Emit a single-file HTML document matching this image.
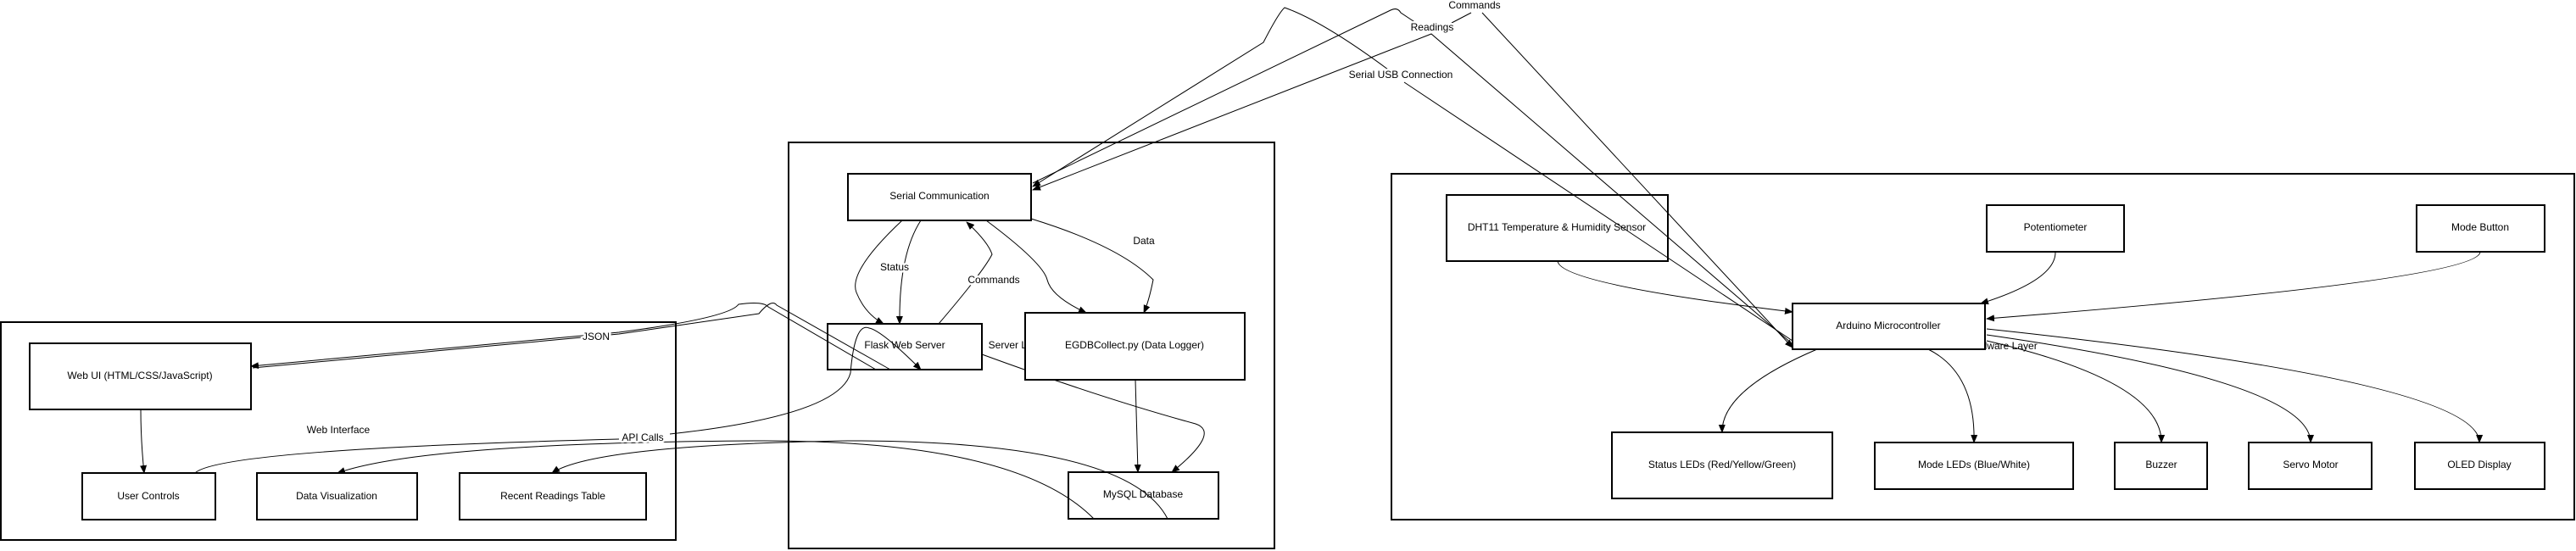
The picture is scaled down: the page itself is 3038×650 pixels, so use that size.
<!DOCTYPE html>
<html><head><meta charset="utf-8"><style>
html,body{margin:0;padding:0;background:#fff}
svg{display:block}
text{font-family:"Liberation Sans",sans-serif;font-size:12px;fill:#000;text-anchor:middle;dominant-baseline:middle}
text.l{stroke:#fff;stroke-width:5px;paint-order:stroke;stroke-linejoin:round}
.c{fill:none;stroke:#000;stroke-width:2}
.n{fill:#fff;stroke:#000;stroke-width:2}
.e{fill:none;stroke:#000;stroke-width:1}
</style></head><body>
<svg width="3038" height="650" viewBox="0 0 3038 650" xmlns="http://www.w3.org/2000/svg">
<defs><marker id="a" markerWidth="10" markerHeight="10" refX="9" refY="5" orient="auto" markerUnits="userSpaceOnUse"><path d="M0,1 L10,5 L0,9 z" fill="#000"/></marker></defs>

<rect class="c" x="1" y="380" width="796" height="257"/>
<rect class="c" x="930" y="168" width="573" height="479"/>
<rect class="c" x="1641" y="205" width="1395" height="408"/>
<text x="399" y="508">Web Interface</text>
<text x="1200" y="408">Server Layer</text>
<text x="2360" y="409">Hardware Layer</text>

<path class="e" d="M2114,402 L1656,97 M1637,82 Q1560,25 1515,9 Q1508,15 1490,50 L1218,220" marker-end="url(#a)"/>
<path class="e" d="M2114,406 L1688,40 L1218,224" marker-end="url(#a)"/>
<path class="e" d="M1218,216 L1640,12 Q1648,8 1652,15 L1670,27 M1712,27 L1735,15 M1748,15 L2114,410" marker-end="url(#a)"/>
<text class="l" x="1739" y="7">Commands</text>
<text class="l" x="1689" y="33">Readings</text>
<text class="l" x="1652" y="89">Serial USB Connection</text>

<path class="e" d="M1064,260 Q1000,320 1010,345 Q1020,370 1042,382" marker-end="url(#a)"/>
<path class="e" d="M1086,260 Q1060,300 1061,382" marker-end="url(#a)"/>
<path class="e" d="M1107,382 Q1160,320 1170,300 Q1165,285 1140,262" marker-end="url(#a)"/>
<path class="e" d="M1163,260 Q1230,310 1235,330 Q1240,350 1281,369" marker-end="url(#a)"/>
<path class="e" d="M1216,258 Q1320,290 1360,330 Q1355,355 1349,369" marker-end="url(#a)"/>
<text class="l" x="1055" y="316">Status</text>
<text class="l" x="1172" y="331">Commands</text>
<text class="l" x="1349" y="285">Data</text>
<path class="e" d="M1339,448 L1342,557" marker-end="url(#a)"/>
<path class="e" d="M1158,418 Q1300,470 1410,500 Q1440,510 1382,557" marker-end="url(#a)"/>

<path class="e" d="M1033,436 L906,362 Q900,355 871,359 Q860,375 730,392 L296,432" marker-end="url(#a)"/>
<path class="e" d="M1050,436 L916,360 Q910,352 895,370 L730,394 L298,434"/>
<text class="l" x="703" y="398">JSON</text>
<path class="e" d="M230,558 Q260,530 730,518 M790,512 Q990,490 1003,440 Q1008,380 1025,387 Q1040,390 1086,436" marker-end="url(#a)"/>
<path class="e" d="M1290,612 Q1200,520 900,520 Q500,522 398,558" marker-end="url(#a)"/>
<path class="e" d="M1377,612 Q1330,520 1000,520 Q700,525 651,558" marker-end="url(#a)"/>
<text class="l" x="758" y="517">API Calls</text>
<path class="e" d="M166,483 Q166,520 170,558" marker-end="url(#a)"/>

<path class="e" d="M1837,308 Q1840,335 2114,368" marker-end="url(#a)"/>
<path class="e" d="M2424,297 Q2425,330 2336,358" marker-end="url(#a)"/>
<path class="e" d="M2925,297 Q2925,330 2343,376" marker-end="url(#a)"/>
<path class="e" d="M2143,412 Q2030,460 2031,510" marker-end="url(#a)"/>
<path class="e" d="M2274,412 Q2330,440 2328,522" marker-end="url(#a)"/>
<path class="e" d="M2343,402 Q2550,450 2549,522" marker-end="url(#a)"/>
<path class="e" d="M2343,395 Q2725,450 2725,522" marker-end="url(#a)"/>
<path class="e" d="M2343,388 Q2925,450 2924,522" marker-end="url(#a)"/>

<rect class="n" x="35" y="405" width="261" height="78"/><text x="165" y="444">Web UI (HTML/CSS/JavaScript)</text>
<rect class="n" x="97" y="558" width="157" height="55"/><text x="175" y="586">User Controls</text>
<rect class="n" x="303" y="558" width="189" height="55"/><text x="397" y="586">Data Visualization</text>
<rect class="n" x="542" y="558" width="220" height="55"/><text x="652" y="586">Recent Readings Table</text>

<rect class="n" x="1000" y="205" width="216" height="55"/><text x="1108" y="232">Serial Communication</text>
<rect class="n" x="976" y="382" width="182" height="54" style="fill:none"/><text x="1067" y="408">Flask Web Server</text>
<rect class="n" x="1209" y="369" width="259" height="79"/><text x="1338" y="408">EGDBCollect.py (Data Logger)</text>
<rect class="n" x="1260" y="557" width="177" height="55" style="fill:none"/><text x="1348" y="584">MySQL Database</text>

<rect class="n" x="1706" y="230" width="261" height="78" style="fill:none"/><text x="1836" y="269">DHT11 Temperature &amp; Humidity Sensor</text>
<rect class="n" x="2343" y="242" width="162" height="55"/><text x="2424" y="269">Potentiometer</text>
<rect class="n" x="2850" y="242" width="151" height="55"/><text x="2925" y="269">Mode Button</text>
<rect class="n" x="2114" y="358" width="227" height="54"/><text x="2227" y="385">Arduino Microcontroller</text>
<rect class="n" x="1901" y="510" width="260" height="78"/><text x="2031" y="549">Status LEDs (Red/Yellow/Green)</text>
<rect class="n" x="2211" y="522" width="234" height="55"/><text x="2328" y="549">Mode LEDs (Blue/White)</text>
<rect class="n" x="2494" y="522" width="109" height="55"/><text x="2549" y="549">Buzzer</text>
<rect class="n" x="2652" y="522" width="145" height="55"/><text x="2725" y="549">Servo Motor</text>
<rect class="n" x="2848" y="522" width="153" height="55"/><text x="2924" y="549">OLED Display</text>
</svg>
</body></html>
